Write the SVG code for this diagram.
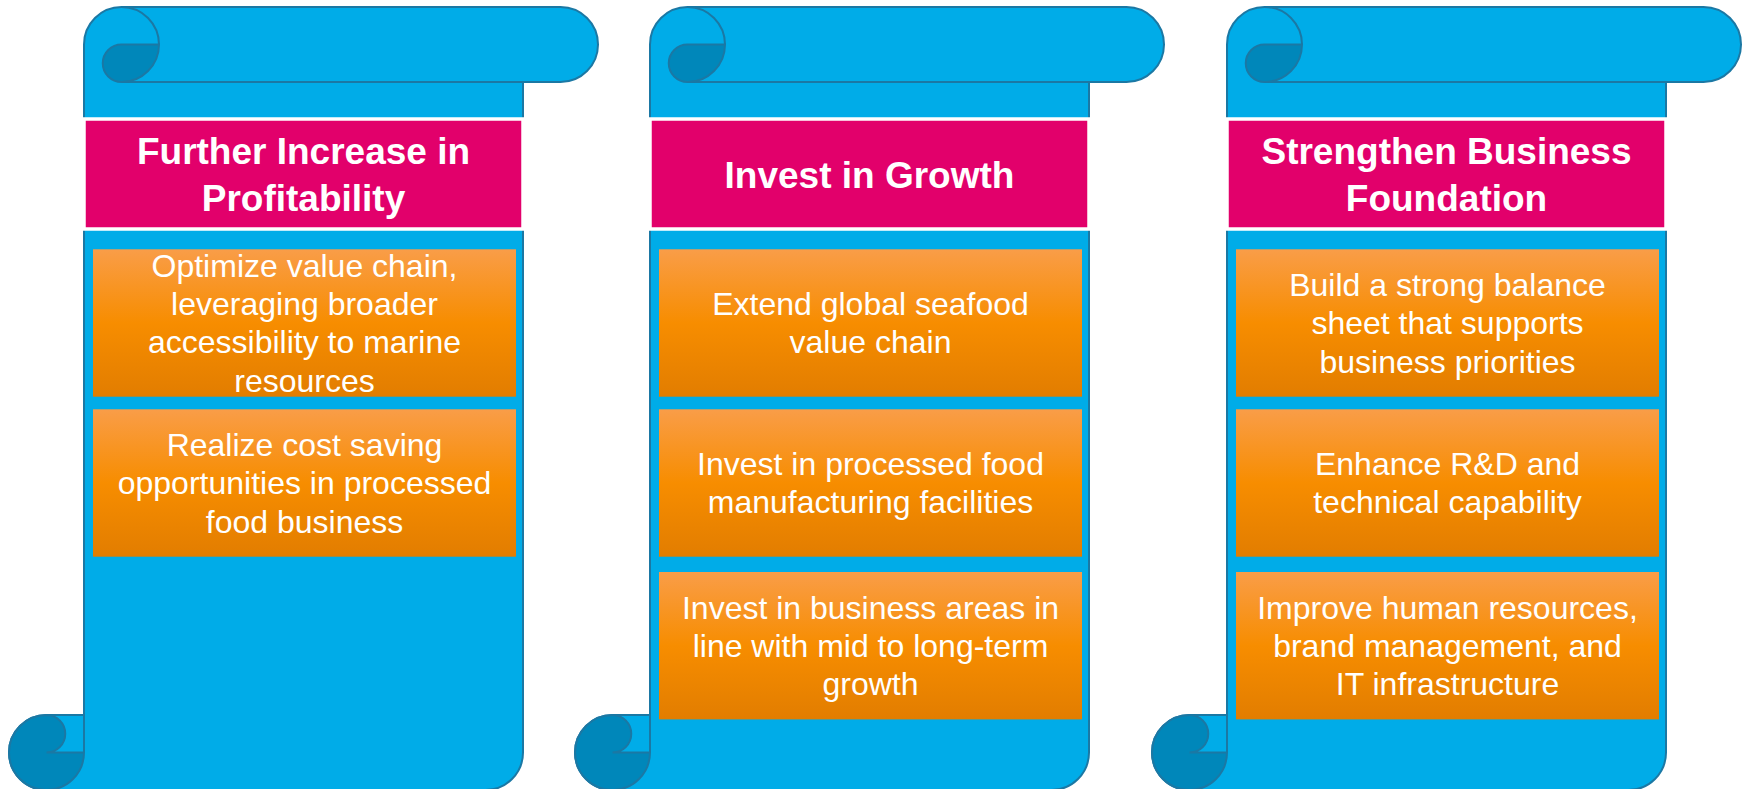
<svg xmlns="http://www.w3.org/2000/svg" xmlns:xlink="http://www.w3.org/1999/xlink" width="1747" height="789" viewBox="0 0 1747 789">
  <defs>
    <linearGradient id="orangeFill" x1="0" y1="0" x2="0" y2="1">
      <stop offset="0" stop-color="#F99D48"/>
      <stop offset="0.5" stop-color="#F78D00"/>
      <stop offset="1" stop-color="#E27D00"/>
    </linearGradient>
    <!-- vertical scroll banner, local origin at its left edge -->
    <g id="scrollShape">
      <path class="paper" d="M75,44.5 A37.5,37.5 0 0 1 112.5,7 L551.5,7 A37.5,37.5 0 0 1 551.5,82 L514,82 L514,752.5 A37.5,37.5 0 0 1 476.5,790 L37.5,790 A37.5,37.5 0 0 1 0,752.5 A37.5,37.5 0 0 1 37.5,715 L75,715 Z"/>
      <path class="edge" d="M112.5,82 L514,82 M112.5,7 A37.5,37.5 0 0 1 150,44.5 M75,715 L75,752.5"/>
      <path class="curl" d="M112.5,44.5 L150,44.5 A37.5,37.5 0 0 1 112.5,82 A18.75,18.75 0 0 1 112.5,44.5 Z"/>
      <path class="curl" d="M37.5,715 A37.5,37.5 0 0 0 0,752.5 A37.5,37.5 0 0 0 37.5,790 A37.5,37.5 0 0 0 75,752.5 L37.5,752.5 A18.75,18.75 0 0 0 37.5,715 Z"/>
    </g>
  </defs>
  <style>
    .paper { fill: #00ACE8; stroke: #1B78A4; stroke-width: 2; }
    .edge { fill: none; stroke: #1B78A4; stroke-width: 2; }
    .curl { fill: #0087BA; stroke: #1B78A4; stroke-width: 2; }
    .header { fill: #E2006B; stroke: #FFFFFF; stroke-width: 3.5; }
    .box { fill: url(#orangeFill); }
    .title { font-family: "Liberation Sans", Arial, sans-serif; font-size: 37px; font-weight: bold; fill: #FFFFFF; text-anchor: middle; }
    .item { font-family: "Liberation Sans", Arial, sans-serif; font-size: 32px; fill: #FFFFFF; text-anchor: middle; }
  </style>
  <rect width="1747" height="789" fill="#FFFFFF"/>

  <!-- Column 1 -->
  <g id="scroll-profitability">
    <use xlink:href="#scrollShape" href="#scrollShape" x="9" y="0"/>
    <rect class="header" x="84" y="119" width="439" height="110"/>
    <text class="title" x="303.5"><tspan x="303.5" y="164.3">Further Increase in</tspan><tspan x="303.5" y="210.5">Profitability</tspan></text>
  </g>
  <g id="item-value-chain">
    <rect class="box" x="93" y="249.3" width="423" height="147.4"/>
    <text class="item"><tspan x="304.5" y="276.8">Optimize value chain,</tspan><tspan x="304.5" y="315.1">leveraging broader</tspan><tspan x="304.5" y="353.4">accessibility to marine</tspan><tspan x="304.5" y="391.7">resources</tspan></text>
  </g>
  <g id="item-cost-saving">
    <rect class="box" x="93" y="409.3" width="423" height="147.4"/>
    <text class="item"><tspan x="304.5" y="456">Realize cost saving</tspan><tspan x="304.5" y="494.3">opportunities in processed</tspan><tspan x="304.5" y="532.6">food business</tspan></text>
  </g>

  <!-- Column 2 -->
  <g id="scroll-growth">
    <use xlink:href="#scrollShape" href="#scrollShape" x="575" y="0"/>
    <rect class="header" x="650" y="119" width="439" height="110"/>
    <text class="title"><tspan x="869.5" y="187.8">Invest in Growth</tspan></text>
  </g>
  <g id="item-seafood">
    <rect class="box" x="659" y="249.3" width="423" height="147.4"/>
    <text class="item"><tspan x="870.5" y="315.1">Extend global seafood</tspan><tspan x="870.5" y="353.4">value chain</tspan></text>
  </g>
  <g id="item-facilities">
    <rect class="box" x="659" y="409.3" width="423" height="147.4"/>
    <text class="item"><tspan x="870.5" y="475.1">Invest in processed food</tspan><tspan x="870.5" y="513.4">manufacturing facilities</tspan></text>
  </g>
  <g id="item-business-areas">
    <rect class="box" x="659" y="572" width="423" height="147.4"/>
    <text class="item"><tspan x="870.5" y="618.7">Invest in business areas in</tspan><tspan x="870.5" y="657">line with mid to long-term</tspan><tspan x="870.5" y="695.3">growth</tspan></text>
  </g>

  <!-- Column 3 -->
  <g id="scroll-foundation">
    <use xlink:href="#scrollShape" href="#scrollShape" x="1152" y="0"/>
    <rect class="header" x="1227" y="119" width="439" height="110"/>
    <text class="title"><tspan x="1446.5" y="164.3">Strengthen Business</tspan><tspan x="1446.5" y="210.5">Foundation</tspan></text>
  </g>
  <g id="item-balance-sheet">
    <rect class="box" x="1236" y="249.3" width="423" height="147.4"/>
    <text class="item"><tspan x="1447.5" y="296">Build a strong balance</tspan><tspan x="1447.5" y="334.3">sheet that supports</tspan><tspan x="1447.5" y="372.6">business priorities</tspan></text>
  </g>
  <g id="item-rnd">
    <rect class="box" x="1236" y="409.3" width="423" height="147.4"/>
    <text class="item"><tspan x="1447.5" y="475.1">Enhance R&amp;D and</tspan><tspan x="1447.5" y="513.4">technical capability</tspan></text>
  </g>
  <g id="item-human-resources">
    <rect class="box" x="1236" y="572" width="423" height="147.4"/>
    <text class="item"><tspan x="1447.5" y="618.7">Improve human resources,</tspan><tspan x="1447.5" y="657">brand management, and</tspan><tspan x="1447.5" y="695.3">IT infrastructure</tspan></text>
  </g>
</svg>
